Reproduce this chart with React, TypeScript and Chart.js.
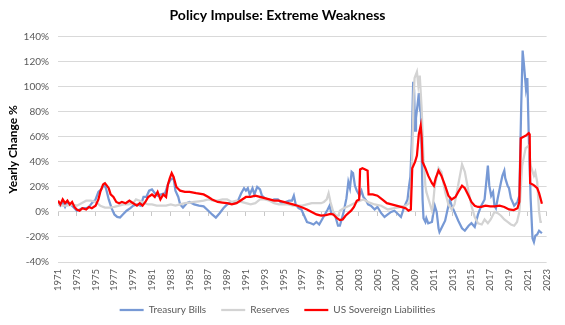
import React, { useEffect, useRef } from "react";
import { Chart, registerables } from "chart.js";

Chart.register(...registerables);

const FONT = "Lato, 'Open Sans', sans-serif";

const chartTitle = "Policy Impulse: Extreme Weakness";
const yAxisTitle = "Yearly Change %";
const seriesNames = ["Treasury Bills", "Reserves", "US Sovereign Liabilities"];
const xMin = 1971;
const xMax = 2023;
const xStep = 2;
const yMin = -40;
const yMax = 140;
const yStep = 20;

// [year, yearly change %]
const treasuryBills: [number, number][] = [
  [1971.0, 7], [1971.25, 5], [1971.5, 8], [1971.75, 4], [1972.0, 8], [1972.25, 6], [1972.5, 5], [1972.75, 3],
  [1973.0, 1], [1973.3, 2], [1973.6, 3], [1974.0, 3], [1974.3, 4], [1974.6, 7], [1975.0, 10], [1975.3, 16],
  [1975.6, 18], [1975.9, 22], [1976.1, 19], [1976.4, 10], [1976.7, 3], [1977.0, -2], [1977.3, -4], [1977.6, -4.5],
  [1977.9, -2], [1978.3, 1], [1978.7, 3], [1979.0, 5], [1979.4, 6], [1979.8, 5], [1980.1, 12], [1980.4, 12],
  [1980.7, 17], [1981.0, 18], [1981.3, 15], [1981.6, 13], [1982.0, 14], [1982.4, 15], [1982.7, 22], [1983.0, 26],
  [1983.3, 27], [1983.5, 17], [1983.8, 12], [1984.0, 6], [1984.3, 3.5], [1984.7, 7], [1985.0, 8], [1985.5, 6],
  [1986.0, 5], [1986.5, 4.5], [1987.0, 1], [1987.4, -2], [1987.8, -4.5], [1988.2, -1], [1988.6, 3], [1989.0, 6],
  [1989.4, 8], [1989.8, 7], [1990.1, 8], [1990.5, 15], [1990.8, 19], [1991.0, 17], [1991.2, 19], [1991.4, 14],
  [1991.7, 19], [1991.9, 14], [1992.2, 20], [1992.5, 18], [1992.7, 13], [1993.0, 11], [1993.4, 10], [1993.7, 9],
  [1994.0, 10], [1994.4, 10], [1994.8, 7], [1995.2, 8], [1995.6, 9], [1995.9, 9], [1996.1, 13], [1996.3, 6],
  [1996.6, 3], [1996.9, 2], [1997.2, -3], [1997.5, -8], [1997.9, -9], [1998.2, -10], [1998.5, -8], [1998.8, -10],
  [1999.1, -6], [1999.4, -2], [1999.7, 2], [1999.9, 5], [2000.1, -1], [2000.5, -3], [2000.8, -11], [2001.0, -11],
  [2001.4, 0], [2001.7, 11], [2001.9, 24], [2002.07, 19], [2002.25, 32], [2002.4, 31], [2002.6, 21], [2002.8, 17],
  [2003.1, 13], [2003.3, 17], [2003.5, 12], [2003.8, 9], [2004.0, 6], [2004.3, 5], [2004.7, 2], [2005.0, 4],
  [2005.4, -1], [2005.75, -4], [2006.1, -2], [2006.45, 0], [2006.8, 1], [2007.1, -1], [2007.5, -4], [2007.85, 4],
  [2008.2, 10], [2008.35, 20], [2008.5, 28], [2008.65, 55], [2008.8, 104], [2008.9, 97], [2009.0, 65], [2009.1, 75],
  [2009.3, 88], [2009.4, 95], [2009.5, 85], [2009.6, 88], [2009.7, 50], [2009.8, 10], [2009.9, -5], [2010.1, -8],
  [2010.2, -5], [2010.4, -9], [2010.8, -8], [2010.9, -3], [2011.1, 5], [2011.3, 0], [2011.5, -13], [2011.6, -16],
  [2011.8, -13], [2012.2, -7], [2012.55, 5], [2012.7, 10], [2012.9, 5], [2013.2, 0], [2013.6, -7], [2014.0, -13],
  [2014.3, -15], [2014.7, -11], [2015.0, -9], [2015.35, -12], [2015.7, -2], [2016.05, 5], [2016.4, 10], [2016.75, 37],
  [2016.9, 21], [2017.1, 13], [2017.3, 16], [2017.45, 5], [2017.6, 3], [2017.8, 11], [2018.15, 24], [2018.3, 29],
  [2018.5, 33], [2018.6, 27], [2018.85, 21], [2019.0, 19], [2019.2, 11], [2019.55, 5], [2019.9, 8], [2020.1, 13],
  [2020.3, 85], [2020.45, 129], [2020.6, 117], [2020.8, 99], [2020.95, 107], [2021.1, 61], [2021.3, 11], [2021.5, -21],
  [2021.65, -24], [2021.8, -19], [2022.0, -18], [2022.2, -15], [2022.35, -16], [2022.5, -17],
];

const reserves: [number, number][] = [
  [1971.0, 6], [1971.5, 5], [1972.0, 5], [1972.5, 6], [1973.0, 5], [1973.5, 7], [1974.0, 9], [1974.5, 9],
  [1975.0, 8], [1975.5, 5], [1976.0, 3.5], [1976.5, 3.5], [1977.0, 4], [1977.5, 5], [1978.0, 6], [1978.5, 6],
  [1979.0, 7], [1979.3, 10], [1979.7, 9], [1980.2, 7], [1980.6, 6], [1981.0, 6], [1981.5, 5], [1982.0, 5],
  [1982.5, 5], [1983.0, 6], [1983.5, 5], [1984.0, 6], [1984.5, 7], [1985.0, 7.5], [1985.5, 8], [1986.0, 8.5],
  [1986.5, 9], [1987.0, 10], [1987.5, 9], [1988.0, 9], [1988.5, 10], [1989.0, 10], [1989.5, 8], [1990.0, 9],
  [1990.5, 8], [1991.0, 7], [1991.5, 6], [1992.0, 7], [1992.5, 10], [1993.0, 10], [1993.5, 9], [1994.0, 7],
  [1994.5, 6], [1995.0, 6], [1995.5, 6], [1996.0, 5], [1996.5, 5], [1997.0, 5], [1997.5, 6], [1998.0, 7],
  [1998.5, 7], [1999.0, 7], [1999.3, 8], [1999.6, 10], [1999.8, 15], [2000.0, 8], [2000.3, 0], [2000.6, -3],
  [2000.85, -3], [2001.0, 1], [2001.4, 3], [2002.0, 5], [2002.8, 8], [2003.5, 10], [2004.0, 8], [2004.7, 6],
  [2005.4, 5], [2006.1, 2], [2006.8, 3], [2007.5, 4], [2008.0, 5], [2008.4, 7], [2008.6, 20], [2008.75, 60],
  [2008.85, 93], [2008.95, 107], [2009.2, 112], [2009.35, 101], [2009.5, 109], [2009.7, 83], [2009.9, 43], [2010.1, 21],
  [2010.2, 16], [2010.4, 11], [2010.8, 1], [2010.9, 5], [2011.1, 21], [2011.5, 35], [2011.8, 32], [2012.2, 16],
  [2012.55, 6], [2012.9, 2], [2013.2, 6], [2013.6, 22], [2014.0, 38], [2014.3, 32], [2014.7, 16], [2015.0, 5],
  [2015.35, -4], [2015.7, -9], [2016.1, -10], [2016.4, -6], [2016.75, -9], [2017.05, -6], [2017.45, 0], [2017.8, -1],
  [2018.15, -3], [2018.5, -6], [2018.85, -8], [2019.2, -10], [2019.55, -11], [2019.85, -8], [2020.1, 0], [2020.4, 37],
  [2020.77, 51], [2021.1, 53], [2021.3, 37], [2021.65, 29], [2021.8, 32], [2022.0, 24], [2022.2, 0], [2022.35, -8],
  [2022.5, -8],
];

const usSovereignLiabilities: [number, number][] = [
  [1971.0, 9], [1971.25, 6], [1971.5, 10], [1971.75, 7], [1972.0, 9], [1972.25, 6], [1972.5, 8], [1972.75, 4],
  [1973.0, 2], [1973.3, 1], [1973.6, 3], [1974.0, 2], [1974.3, 4], [1974.6, 3], [1975.0, 5], [1975.3, 10],
  [1975.5, 16], [1975.8, 22], [1976.0, 23], [1976.2, 21], [1976.4, 19], [1976.6, 14], [1976.9, 12], [1977.2, 8],
  [1977.5, 7], [1977.8, 8], [1978.2, 7], [1978.6, 9], [1979.0, 7], [1979.4, 5], [1979.7, 7], [1980.0, 5],
  [1980.3, 8], [1980.6, 12], [1981.0, 14], [1981.3, 12], [1981.6, 16], [1981.9, 10], [1982.2, 14], [1982.5, 12],
  [1982.7, 22], [1982.9, 27], [1983.1, 31], [1983.3, 28], [1983.6, 20], [1984.0, 17], [1984.5, 16], [1985.0, 16],
  [1985.7, 15], [1986.5, 14], [1987.0, 12], [1987.4, 10], [1988.0, 8], [1988.5, 7.5], [1989.0, 7], [1989.5, 6],
  [1990.0, 7], [1990.4, 9], [1990.8, 11], [1991.0, 12], [1991.5, 12], [1992.0, 13], [1992.5, 12], [1993.0, 11],
  [1993.5, 10], [1994.0, 9], [1994.5, 9], [1995.0, 8], [1995.5, 7], [1996.0, 6], [1996.5, 5], [1997.0, 3.5],
  [1997.5, 2], [1998.0, 0], [1998.5, -2], [1999.0, -3], [1999.5, -2.5], [2000.0, -1.5], [2000.3, -2], [2000.7, -5],
  [2001.0, -6.5], [2001.3, -6], [2001.6, -3], [2001.9, -1], [2002.2, 1], [2002.5, 4], [2002.8, 9], [2003.05, 10],
  [2003.15, 34], [2003.4, 35], [2003.7, 34], [2003.95, 33], [2004.05, 14], [2004.5, 14], [2005.0, 13], [2005.5, 10],
  [2006.0, 7], [2006.5, 6], [2007.0, 5], [2007.5, 4], [2008.0, 3], [2008.3, 1], [2008.55, 2], [2008.7, 35],
  [2009.0, 40], [2009.2, 45], [2009.4, 62], [2009.6, 69], [2009.7, 60], [2009.8, 40], [2010.1, 35], [2010.4, 29],
  [2010.8, 23], [2011.0, 21], [2011.2, 27], [2011.5, 33], [2011.8, 29], [2012.2, 21], [2012.55, 13], [2012.9, 10],
  [2013.3, 12], [2013.6, 16], [2014.0, 21], [2014.3, 19], [2014.7, 13], [2015.0, 8], [2015.35, 5], [2015.7, 4],
  [2016.05, 4], [2016.5, 5], [2017.0, 4.5], [2017.5, 4.5], [2018.0, 5], [2018.5, 4], [2019.0, 2], [2019.5, 1.5],
  [2019.9, 3], [2020.1, 8], [2020.25, 59], [2020.5, 60], [2020.8, 61], [2021.1, 63], [2021.2, 62], [2021.25, 23],
  [2021.5, 22], [2021.7, 21], [2022.0, 19], [2022.2, 15], [2022.35, 11], [2022.5, 6.5],
];

const seriesColors = ["#7799d5", "#d3d3d3", "#ff0000"];

const toPoints = (arr: [number, number][]) => arr.map(([x, y]) => ({ x, y }));

export default function App() {
  const canvasRef = useRef<HTMLCanvasElement | null>(null);

  useEffect(() => {
    document.body.style.margin = "0";
    const canvas = canvasRef.current;
    if (!canvas) return;
    const allSeries = [treasuryBills, reserves, usSovereignLiabilities];
    const orders = [2, 1, 0];
    const defaultLabels = Chart.defaults.plugins.legend.labels.generateLabels;
    const chart = new Chart(canvas, {
      type: "line",
      data: {
        datasets: allSeries.map((s, i) => ({
          label: seriesNames[i],
          data: toPoints(s),
          borderColor: seriesColors[i],
          backgroundColor: seriesColors[i],
          borderWidth: 2.25,
          pointRadius: 0,
          tension: 0,
          fill: false,
          order: orders[i],
          xAxisID: "x",
          yAxisID: "y",
        })),
      },
      options: {
        responsive: false,
        animation: false,
        layout: { padding: { left: 0, right: 10, top: 0, bottom: 0 } },
        plugins: {
          title: {
            display: true,
            text: chartTitle,
            color: "#000000",
            font: { family: FONT, size: 14, weight: "bold" },
            padding: { top: 7, bottom: 13 },
          },
          legend: {
            position: "bottom",
            labels: {
              usePointStyle: true,
              pointStyle: "line",
              pointStyleWidth: 24,
              boxHeight: 10,
              padding: 10,
              color: "#595959",
              font: { family: FONT, size: 10 },
              generateLabels: (c: any) => {
                const items = defaultLabels(c);
                items.sort((a: any, b: any) => a.datasetIndex - b.datasetIndex);
                return items.map((it: any, idx: number) => ({
                  ...it,
                  text: idx < items.length - 1 ? it.text + "\u2002" : it.text,
                }));
              },
            },
          },
          tooltip: { enabled: false },
        },
        scales: {
          y: {
            type: "linear",
            min: yMin,
            max: yMax,
            ticks: {
              stepSize: yStep,
              color: "#595959",
              font: { family: FONT, size: 10 },
              padding: 9,
              callback: (v: any) => `${v}%`,
            },
            grid: { color: "#d9d9d9", lineWidth: 1, drawTicks: false },
            border: { display: false },
            title: {
              display: true,
              text: yAxisTitle,
              color: "#000000",
              font: { family: FONT, size: 12, weight: "bold" },
              padding: { top: 6, bottom: 0 },
            },
            afterFit: (s: any) => {
              s.width = 58;
            },
          },
          x: {
            type: "linear",
            min: xMin,
            max: xMax,
            position: { y: 0 } as any,
            ticks: { display: false, stepSize: xStep },
            grid: { drawOnChartArea: false, drawTicks: true, tickLength: 4, color: "#c8c8c8" },
            border: { display: true, color: "#d9d9d9" },
          },
          xl: {
            type: "linear",
            min: xMin,
            max: xMax,
            position: "bottom",
            ticks: {
              stepSize: xStep,
              autoSkip: false,
              maxRotation: 90,
              minRotation: 90,
              padding: 7,
              color: "#595959",
              font: { family: FONT, size: 9.5 },
              callback: (v: any) => String(v),
            },
            grid: { display: false, drawTicks: false },
            border: { display: false },
            afterFit: (s: any) => {
              s.height = 33;
            },
          },
        },
      },
    });
    return () => chart.destroy();
  }, []);

  return (
    <div style={{ width: 565, height: 325, background: "#ffffff" }}>
      <canvas ref={canvasRef} width={565} height={325} />
    </div>
  );
}
